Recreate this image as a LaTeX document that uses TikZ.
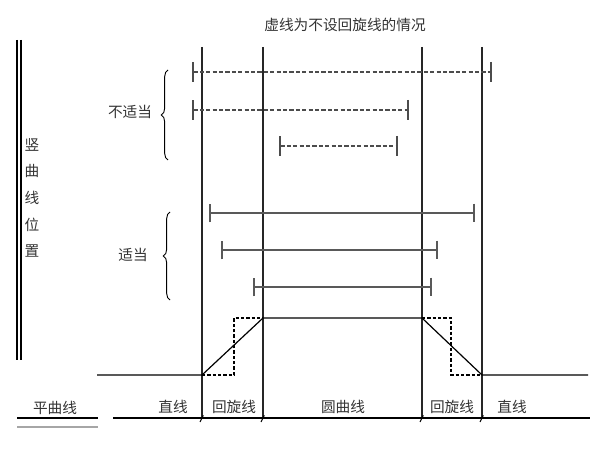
\documentclass[tikz,border=0pt]{standalone}
\usepackage{fontspec}
\setmainfont{Noto Sans CJK SC}
\usetikzlibrary{arrows.meta}
\usetikzlibrary{decorations.pathreplacing}

\begin{document}
\begin{tikzpicture}[x=0.75pt,y=0.75pt,font=\fontsize{11}{13}\selectfont,
    guide/.style={line width=0.8pt,black!85},
    dashbar/.style={{Bar[width=15pt]}-{Bar[width=15pt]},line width=1.4pt,gray!60!black,dash pattern=on 3.2pt off 1.6pt},
    solidbar/.style={{Bar[width=14pt]}-{Bar[width=14pt]},line width=1.4pt,gray!70!black},
    plan/.style={line width=0.9pt,black},
    planbox/.style={line width=0.9pt,black,dash pattern=on 2.4pt off 1.6pt},
    vbrace/.style={decorate,decoration={brace,amplitude=5pt},line width=0.7pt},
    lbl/.style={inner sep=1pt,text=black!80}]
  \useasboundingbox (0,0) rectangle (600,450);
  % guide lines
  \coordinate (t_1) at (202,403); \coordinate (b_1) at (202,32);
  \coordinate (t_2) at (263,403); \coordinate (b_2) at (263,32);
  \coordinate (t_3) at (422,403); \coordinate (b_3) at (422,32);
  \coordinate (t_4) at (482,403); \coordinate (b_4) at (482,32);
  \foreach \i in {1,...,4} {
    \draw[guide] (t_\i) -- (b_\i);
    \draw[line width=0.7pt] ([xshift=-1.5pt,yshift=-3pt]b_\i) -- ([xshift=1pt,yshift=2pt]b_\i);
  }
  \node[lbl] (title) at (345,425) {虚线为不设回旋线的情况};
  % vertical curve positions
  \draw[dashbar] (192,378) -- (492,378);
  \draw[dashbar] (192,340) -- (409,340);
  \draw[dashbar] (279,304) -- (398,304);
  \draw[solidbar] (209,237) -- (475,237);
  \draw[solidbar] (221,200) -- (438,200);
  \draw[solidbar] (253,163) -- (432,163);
  \draw[vbrace] (168,290) -- (168,380);
  \draw[vbrace] (170,150) -- (170,238);
  \node[lbl] (bad)  at (130,338) {不适当};
  \node[lbl] (good) at (133,195) {适当};
  % left title
  \draw[line width=0.8pt] (17,410) -- (17,90);
  \draw[line width=0.8pt] (21,410) -- (21,90);
  \node[lbl,align=center,font=\fontsize{11}{20}\selectfont] (vc) at (32,252) {竖\\曲\\线\\位\\置};
  % plan curve
  \coordinate (p_0) at (97,75);   \coordinate (p_1) at (202,75);
  \coordinate (p_2) at (263,132); \coordinate (p_3) at (422,132);
  \coordinate (p_4) at (482,75);  \coordinate (p_5) at (588,75);
  \draw[plan] (p_0) -- (p_1) -- (p_2) -- (p_3) -- (p_4) -- (p_5);
  \draw[planbox] (p_1) -- (234,75) -- (234,132) -- (p_2);
  \draw[planbox] (p_3) -- (451,132) -- (451,75) -- (p_4);
  % horizontal curve
  \coordinate (h_0) at (113,32); \coordinate (h_1) at (590,32);
  \draw[line width=0.9pt] (h_0) -- (h_1);
  \draw[line width=0.9pt] (17,32) -- (98,32);
  \draw[line width=1.6pt,gray!70] (17,23) -- (98,23);
  \node[lbl] (hc)  at (55,42)  {平曲线};
  \node[lbl] (s_1) at (173,43) {直线};
  \node[lbl] (c_1) at (234,43) {回旋线};
  \node[lbl] (r)   at (343,43) {圆曲线};
  \node[lbl] (c_2) at (452,43) {回旋线};
  \node[lbl] (s_2) at (512,43) {直线};
\end{tikzpicture}
\end{document}
